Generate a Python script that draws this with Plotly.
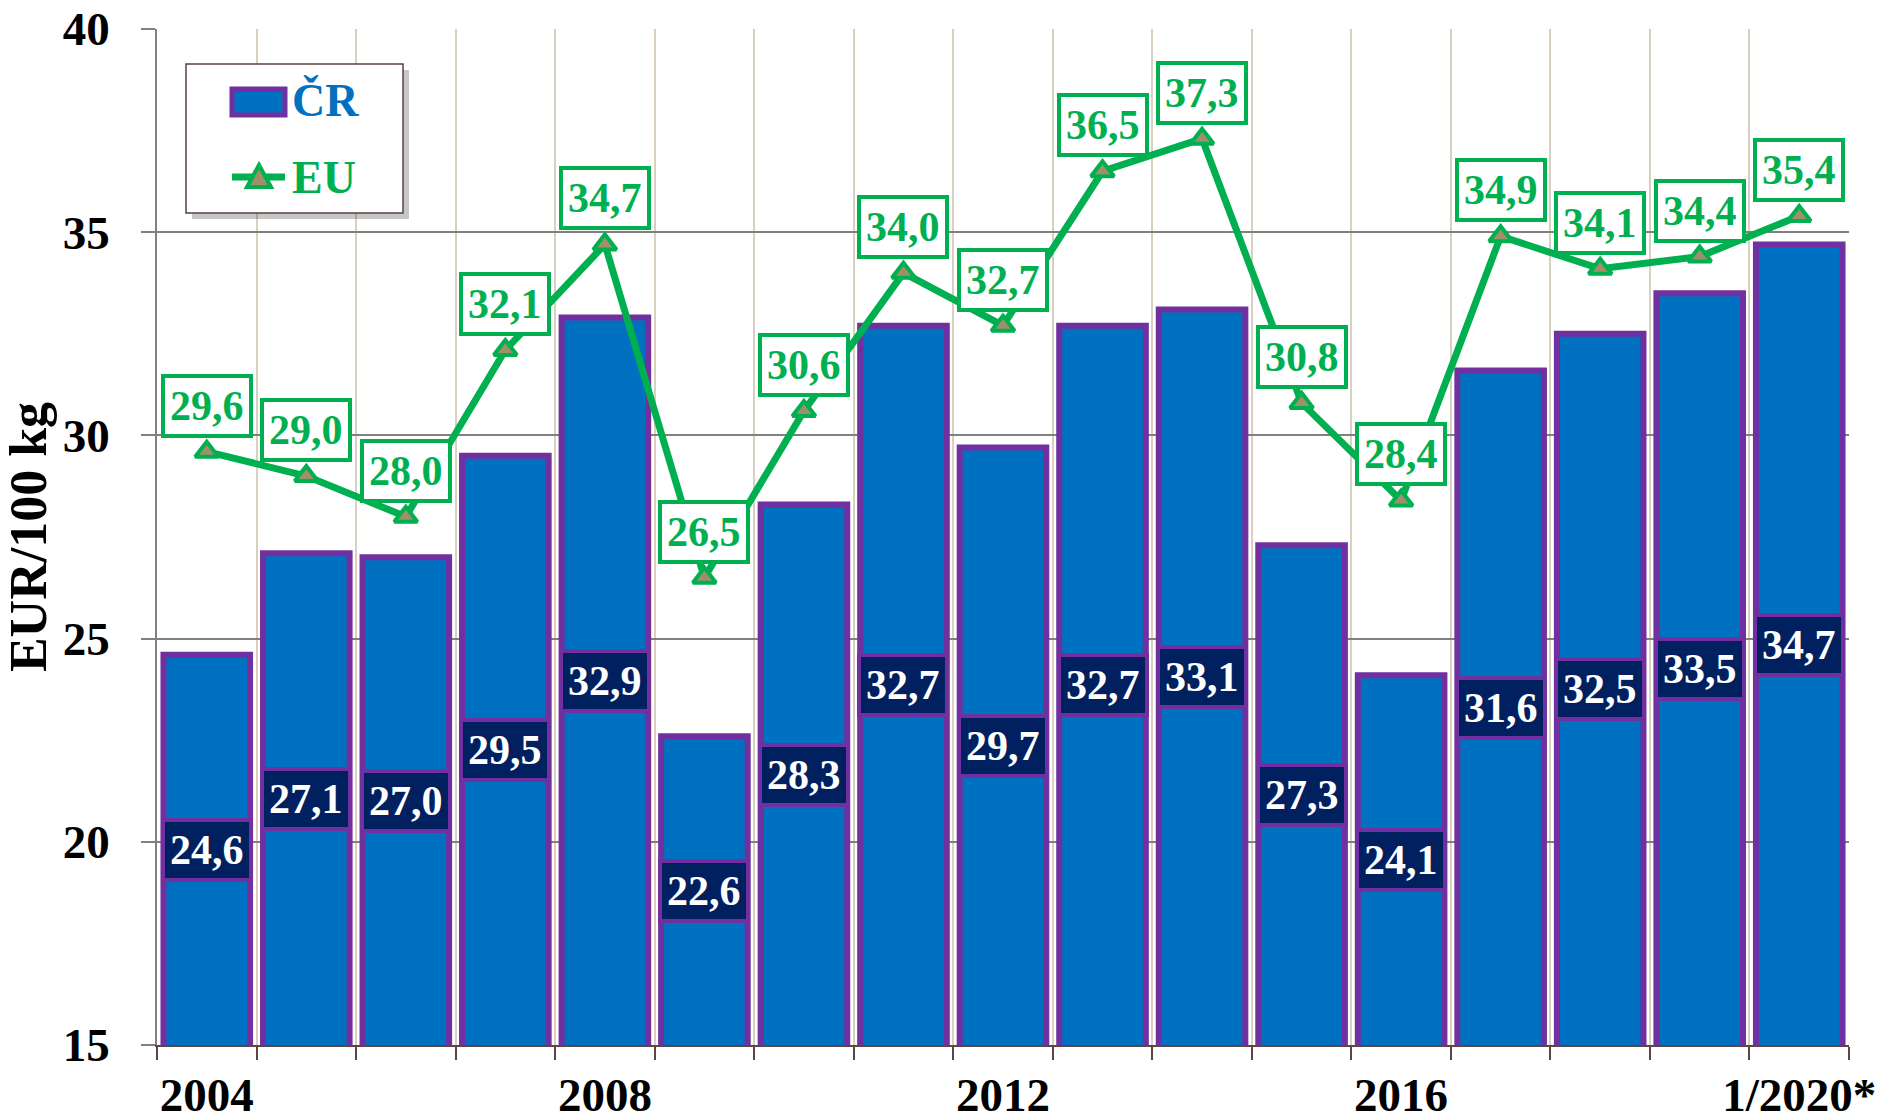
import plotly.graph_objects as go

years = ["2004", "2005", "2006", "2007", "2008", "2009", "2010", "2011", "2012",
         "2013", "2014", "2015", "2016", "2017", "2018", "2019", "1/2020*"]
cr = [24.6, 27.1, 27.0, 29.5, 32.9, 22.6, 28.3, 32.7, 29.7, 32.7, 33.1, 27.3, 24.1,
      31.6, 32.5, 33.5, 34.7]
eu = [29.6, 29.0, 28.0, 32.1, 34.7, 26.5, 30.6, 34.0, 32.7, 36.5, 37.3, 30.8, 28.4,
      34.9, 34.1, 34.4, 35.4]
shown_ticks = ["2004", "2008", "2012", "2016", "1/2020*"]
y_min, y_max = 15, 40

FONT = "Liberation Serif"
BLUE = "#0070C0"
PURPLE = "#7030A0"
GREEN = "#00B050"

# plot area in pixels, used to place the hand-drawn legend
L, R, T, B = 157, 1849, 29, 1045


def px(xp):
    return (xp - L) / (R - L)


def py(yp):
    return (B - yp) / (B - T)


fig = go.Figure()
fig.add_trace(go.Bar(
    x=years, y=cr, name="ČR",
    marker=dict(color=BLUE, line=dict(color=PURPLE, width=6)),
))
fig.add_trace(go.Scatter(
    x=years, y=eu, mode="lines+markers", name="EU",
    line=dict(color=GREEN, width=7),
    marker=dict(symbol="triangle-up", size=20, color="#A0906A",
                line=dict(color=GREEN, width=4)),
))

# value boxes (index positions on the category axis)
for i, v in enumerate(cr):
    fig.add_annotation(x=i, y=(y_min + v) / 2, text=f"{v:.1f}".replace(".", ","),
                       showarrow=False, bgcolor="#002060", bordercolor=PURPLE,
                       borderwidth=4, borderpad=5,
                       font=dict(family=FONT, size=42, color="white", weight="bold"))
for i, v in enumerate(eu):
    fig.add_annotation(x=i, y=v, yshift=46, text=f"{v:.1f}".replace(".", ","),
                       showarrow=False, bgcolor="white", bordercolor=GREEN,
                       borderwidth=4, borderpad=5,
                       font=dict(family=FONT, size=42, color=GREEN, weight="bold"))

# legend drawn by hand (plotly's bar swatch is too small)
shapes = [
    dict(type="rect", xref="paper", yref="paper", x0=px(192), x1=px(409), y0=py(70), y1=py(219),
         fillcolor="rgba(0,0,0,0.22)", line=dict(width=0), layer="above"),
    dict(type="rect", xref="paper", yref="paper", x0=px(186), x1=px(403), y0=py(64), y1=py(213),
         fillcolor="white", line=dict(color="#5b4040", width=1.5), layer="above"),
    dict(type="rect", xref="paper", yref="paper", x0=px(232), x1=px(285), y0=py(89), y1=py(115),
         fillcolor=BLUE, line=dict(color=PURPLE, width=5), layer="above"),
    dict(type="line", xref="paper", yref="paper", x0=px(232), x1=px(285), y0=py(177), y1=py(177),
         line=dict(color=GREEN, width=7), layer="above"),
    dict(type="path", xref="paper", yref="paper",
         path=f"M {px(247)} {py(187)} L {px(271)} {py(187)} L {px(259)} {py(165)} Z",
         fillcolor="#A0906A", line=dict(color=GREEN, width=4), layer="above"),
]
fig.add_annotation(xref="paper", yref="paper", x=px(290), y=py(101), xanchor="left", yanchor="middle",
                   text="ČR", showarrow=False,
                   font=dict(family=FONT, size=46, color=BLUE, weight="bold"))
fig.add_annotation(xref="paper", yref="paper", x=px(290), y=py(178), xanchor="left", yanchor="middle",
                   text="EU", showarrow=False,
                   font=dict(family=FONT, size=46, color=GREEN, weight="bold"))

fig.update_layout(
    width=1883, height=1120,
    margin=dict(l=L, r=1883 - R, t=T, b=1120 - B),
    plot_bgcolor="white", paper_bgcolor="white",
    bargap=0.13,
    font=dict(family=FONT, color="black", size=47, weight="bold"),
    showlegend=False,
    shapes=shapes,
)
fig.update_xaxes(
    type="category", tickson="boundaries", ticks="outside", ticklen=13,
    tickcolor="#5b4545", tickwidth=1.5, tickangle=0, automargin=False,
    tickvals=years, ticktext=[y if y in shown_ticks else "" for y in years],
    showgrid=True, gridcolor="#D9D0C1", gridwidth=1.5,
    showline=True, linecolor="#5b4545", linewidth=1.5,
    ticklabelstandoff=8,
    range=[-0.5, len(years) - 0.5],
)
fig.update_yaxes(
    range=[y_min, y_max], dtick=5, ticks="outside", ticklen=14,
    tickcolor="#808080", tickwidth=1.5, automargin=False,
    showgrid=True, gridcolor="#808080", gridwidth=1.5,
    showline=True, linecolor="#808080", linewidth=1.5,
    zeroline=False, ticklabelstandoff=22,
    title=dict(text="EUR/100 kg", standoff=0,
               font=dict(family=FONT, size=52, color="black", weight="bold")),
)

# drop the default page margin so the chart sits at the window's corner
fig.write_html("out.html", config={"displayModeBar": False},
               post_script="document.body.style.margin='0';")
